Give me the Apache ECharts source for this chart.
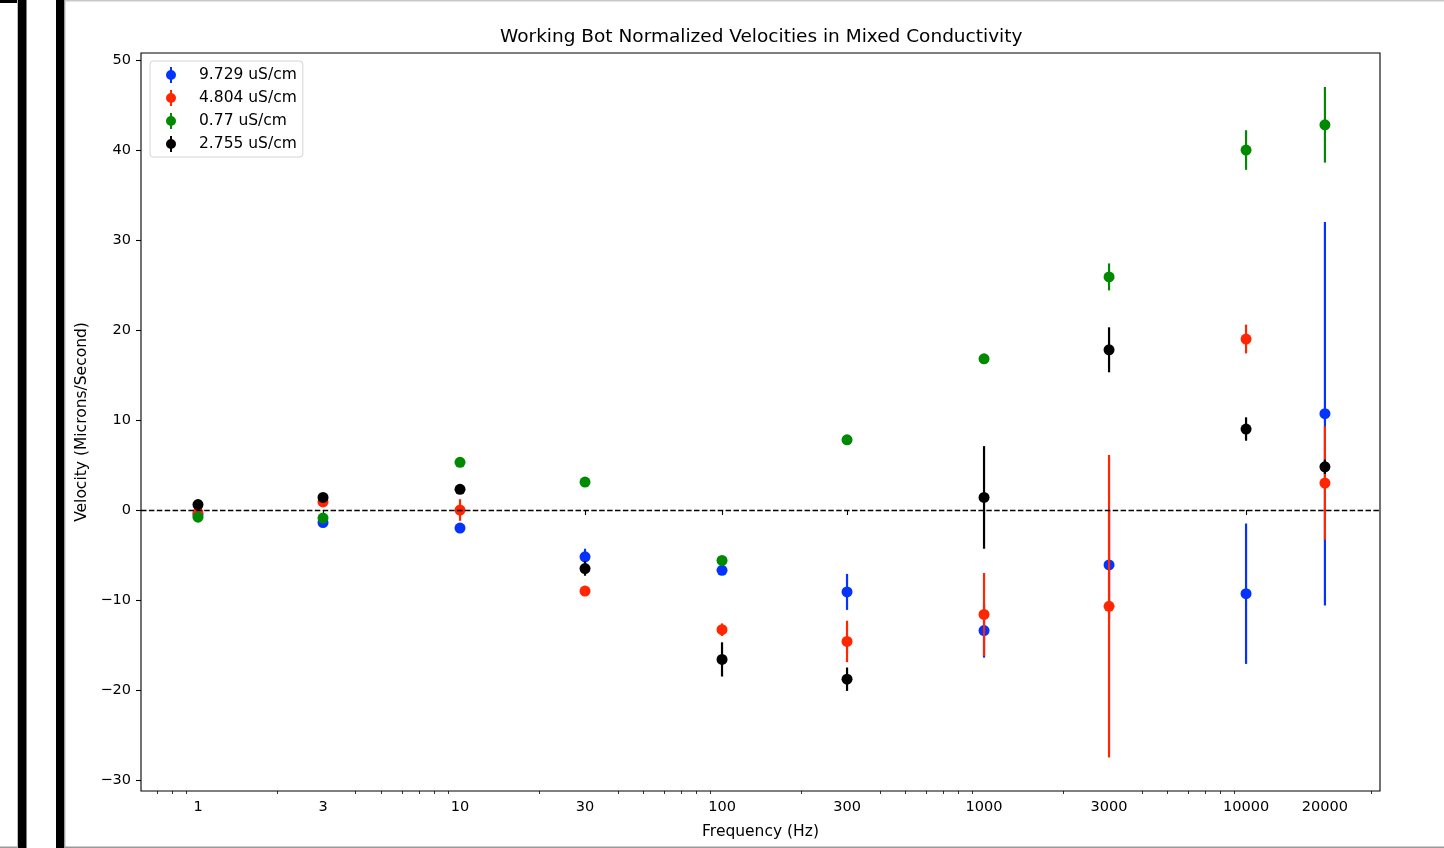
<!DOCTYPE html>
<html>
<head>
<meta charset="utf-8">
<script src="https://cdn.jsdelivr.net/npm/echarts@6/dist/echarts.min.js"></script>
<style>
  html, body { margin: 0; padding: 0; background: #fff; }
  #main { width: 1444px; height: 848px; }
</style>
</head>
<body>
<div id="main"></div>
<script>
// frequencies (Hz)
var freqs = [1, 3, 10, 30, 100, 300, 1000, 3000, 10000, 20000];

// mean velocity and error per conductivity
var blueV  = [-0.5, -1.4, -2.0, -5.2, -6.7, -9.1, -13.4, -6.1, -9.3, 10.7];
var blueE  = [0.3, 0.3, 0.3, 0.9, 0.5, 2.0, 3.0, 6.0, 7.8, 21.3];
var redV   = [-0.3, 0.9, 0.0, -9.0, -13.3, -14.6, -11.6, -10.7, 19.0, 3.0];
var redE   = [0.2, 0.3, 1.2, 0.3, 0.7, 2.3, 4.6, 16.8, 1.6, 6.3];
var greenV = [-0.8, -0.9, 5.3, 3.1, -5.6, 7.8, 16.8, 25.9, 40.0, 42.8];
var greenE = [0.2, 0.2, 0.2, 0.2, 0.2, 0.2, 0.2, 1.5, 2.2, 4.2];
var blackV = [0.6, 1.4, 2.3, -6.5, -16.6, -18.8, 1.4, 17.8, 9.0, 4.8];
var blackE = [0.3, 0.3, 0.3, 0.8, 1.9, 1.3, 5.7, 2.5, 1.3, 0.8];

var names = ['9.729 uS/cm', '4.804 uS/cm', '0.77 uS/cm', '2.755 uS/cm'];
var colors = ['#0433ff', '#ff2600', '#008a00', '#000000'];

// tick labels
var xTicks = [1, 3, 10, 30, 100, 300, 1000, 3000, 10000, 20000];
var xMinor = [0.7, 0.8, 0.9, 2, 4, 5, 6, 7, 8, 9, 20, 40, 50, 60, 70, 80, 90,
  200, 400, 500, 600, 700, 800, 900, 2000, 4000, 5000, 6000, 7000, 8000, 9000, 30000];
var yTicks = [-30, -20, -10, 0, 10, 20, 30, 40, 50];

var font = 'DejaVu Sans';
var icon = 'path://M4,0H6V16H4Z M0,8A5,5 0 1 1 10,8A5,5 0 1 1 0,8Z';

function pack(vals, errs) {
  return freqs.map(function (f, i) { return [f, vals[i], errs[i]]; });
}

function errSeries(name, color, vals, errs) {
  return {
    name: name,
    type: 'custom',
    itemStyle: { color: color },
    encode: { x: 0, y: 1 },
    data: pack(vals, errs),
    renderItem: function (params, api) {
      var x = api.value(0), y = api.value(1), e = api.value(2);
      var top = api.coord([x, y + e]);
      var bot = api.coord([x, y - e]);
      var c = api.coord([x, y]);
      return {
        type: 'group',
        children: [
          { type: 'line', shape: { x1: top[0], y1: top[1], x2: bot[0], y2: bot[1] },
            style: { stroke: color, lineWidth: 2.2 } },
          { type: 'circle', shape: { cx: c[0], cy: c[1], r: 5.5 }, style: { fill: color } }
        ]
      };
    }
  };
}

var chart = echarts.init(document.getElementById('main'));

var series = [
  errSeries(names[0], colors[0], blueV, blueE),
  errSeries(names[1], colors[1], redV, redE),
  errSeries(names[2], colors[2], greenV, greenE),
  errSeries(names[3], colors[3], blackV, blackE)
];
// dashed zero line
series[0].markLine = {
  silent: true,
  symbol: 'none',
  label: { show: false },
  lineStyle: { color: '#000', type: [5.5, 2.4], width: 1.4 },
  data: [{ yAxis: 0 }]
};

chart.setOption({
  animation: false,
  backgroundColor: '#fff',
  title: {
    text: 'Working Bot Normalized Velocities in Mixed Conductivity',
    left: 500,
    top: 28,
    padding: 0,
    textStyle: { fontFamily: font, fontSize: 18.5, fontWeight: 'normal', color: '#000' }
  },
  grid: {
    left: 141, right: 64, top: 53, bottom: 57,
    show: true, borderColor: '#000', borderWidth: 1.1, backgroundColor: 'transparent'
  },
  legend: {
    left: 150,
    top: 61,
    orient: 'vertical',
    padding: [6, 6, 5, 16],
    itemWidth: 40,
    itemHeight: 16,
    itemGap: 7,
    borderColor: '#d4d4d4',
    borderWidth: 1,
    borderRadius: 3,
    backgroundColor: 'rgba(255,255,255,0.8)',
    textStyle: { fontFamily: font, fontSize: 15.5, color: '#000', padding: [0, 0, 0, 3] },
    data: names.map(function (n) { return { name: n, icon: icon }; })
  },
  xAxis: [{
    type: 'log',
    min: 0.606,
    max: 32450,
    name: 'Frequency (Hz)',
    nameLocation: 'middle',
    nameGap: 33,
    nameTextStyle: { fontFamily: font, fontSize: 15.5, color: '#000' },
    axisLine: { show: false },
    splitLine: { show: false },
    axisTick: { show: true, length: 5, customValues: xTicks, lineStyle: { color: '#000', width: 1.1 } },
    axisLabel: {
      customValues: xTicks,
      margin: 9,
      fontFamily: font, fontSize: 14.5, color: '#000',
      formatter: function (v) { return String(Math.round(v)); }
    }
  }, {
    type: 'log',
    min: 0.606,
    max: 32450,
    position: 'bottom',
    axisLine: { show: false },
    splitLine: { show: false },
    axisLabel: { show: false },
    axisTick: { show: true, length: 3, customValues: xMinor, lineStyle: { color: '#000', width: 0.8 } }
  }],
  yAxis: {
    type: 'value',
    min: -31.22,
    max: 50.78,
    name: 'Velocity (Microns/Second)',
    nameLocation: 'middle',
    nameGap: 47,
    nameTextStyle: { fontFamily: font, fontSize: 15.5, color: '#000' },
    axisLine: { show: false },
    splitLine: { show: false },
    axisTick: { show: true, length: 5, customValues: yTicks, lineStyle: { color: '#000', width: 1.1 } },
    axisLabel: {
      customValues: yTicks,
      margin: 10,
      fontFamily: font, fontSize: 14.5, color: '#000',
      formatter: function (v) { return String(v).replace('-', '\u2212'); }
    }
  },
  graphic: [
    { type: 'rect', shape: { x: 0, y: 0, width: 18, height: 3 }, style: { fill: '#000' } },
    { type: 'rect', shape: { x: 17, y: 0, width: 1, height: 848 }, style: { fill: '#bbb' } },
    { type: 'rect', shape: { x: 18, y: 0, width: 8.5, height: 848 }, style: { fill: '#000' } },
    { type: 'rect', shape: { x: 56, y: 0, width: 8.5, height: 848 }, style: { fill: '#000' } },
    { type: 'rect', shape: { x: 64.5, y: 0, width: 1, height: 848 }, style: { fill: '#bbb' } },
    { type: 'rect', shape: { x: 65, y: 0, width: 1379, height: 1.5 }, style: { fill: '#c8c8c8' } },
    { type: 'rect', shape: { x: 0, y: 846.5, width: 17, height: 1.5 }, style: { fill: '#999' } },
    { type: 'rect', shape: { x: 65, y: 846.5, width: 1379, height: 1.5 }, style: { fill: '#999' } }
  ],
  series: series
});
</script>
</body>
</html>
